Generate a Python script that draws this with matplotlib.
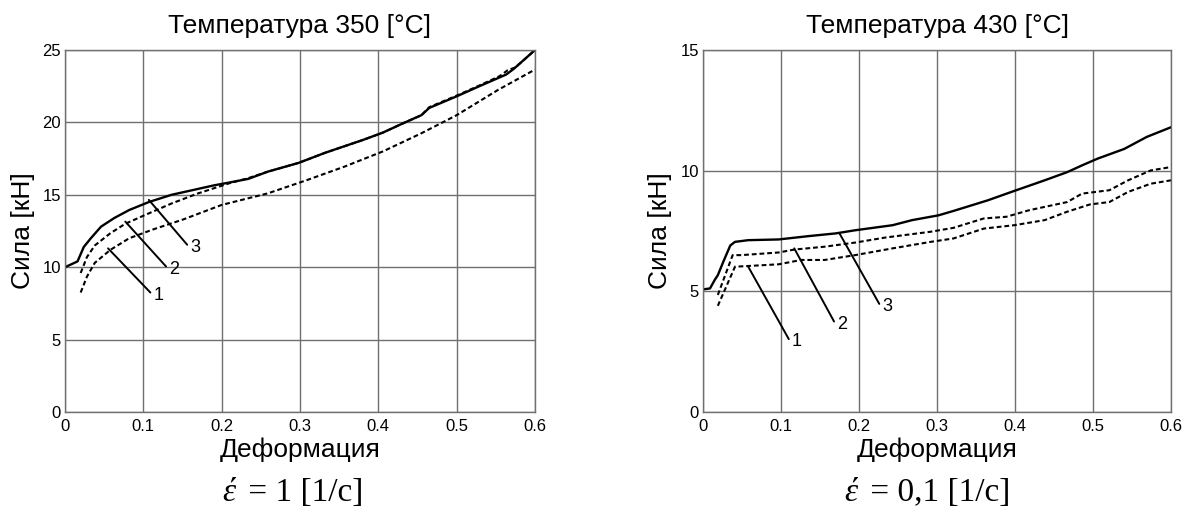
import matplotlib
matplotlib.use('Agg')
import matplotlib.pyplot as plt

plt.rcParams['font.family'] = ['Liberation Sans', 'DejaVu Sans']

# ---------------- data ----------------
strain_ticks = [0, 0.1, 0.2, 0.3, 0.4, 0.5, 0.6]
strain_tick_labels = ['0', '0.1', '0.2', '0.3', '0.4', '0.5', '0.6']
force_ticks_350 = [0, 5, 10, 15, 20, 25]
force_ticks_430 = [0, 5, 10, 15]

titles = ['Температура 350 [°C]', 'Температура 430 [°C]']
xlabel = 'Деформация'
ylabel = 'Сила [кН]'
rate_labels = ['1', '0,1']

# T = 350 °C, strain rate 1 1/s
t350_c3_x = [0, 0.016, 0.024, 0.033, 0.046, 0.063, 0.082, 0.107, 0.136, 0.161, 0.19, 0.21,
             0.234, 0.259, 0.298, 0.332, 0.381, 0.406, 0.43, 0.455, 0.465, 0.5, 0.529, 0.563,
             0.573, 0.6]
t350_c3_y = [10.0, 10.4, 11.4, 12.0, 12.8, 13.4, 13.95, 14.5, 15.0, 15.3, 15.65, 15.85,
             16.1, 16.6, 17.2, 17.9, 18.8, 19.3, 19.9, 20.5, 21.0, 21.8, 22.5, 23.3,
             23.7, 25.0]
t350_c2_x = [0.02, 0.028, 0.038, 0.058, 0.077, 0.102, 0.136, 0.17, 0.21, 0.234, 0.259, 0.298,
             0.332, 0.381, 0.406, 0.43, 0.455, 0.465, 0.5, 0.529, 0.555, 0.565, 0.575, 0.6]
t350_c2_y = [9.6, 10.7, 11.5, 12.35, 13.0, 13.6, 14.4, 15.1, 15.8, 16.15, 16.6, 17.2,
             17.9, 18.8, 19.3, 19.9, 20.5, 21.05, 21.85, 22.55, 23.2, 23.6, 23.8, 25.0]
t350_c1_x = [0.02, 0.028, 0.038, 0.058, 0.082, 0.112, 0.151, 0.2, 0.259, 0.308, 0.357, 0.406,
             0.455, 0.5, 0.553, 0.6]
t350_c1_y = [8.25, 9.35, 10.3, 11.2, 12.0, 12.6, 13.3, 14.3, 15.1, 16.0, 16.95, 18.0,
             19.25, 20.5, 22.25, 23.65]

# T = 430 °C, strain rate 0.1 1/s
t430_c3_x = [0, 0.009, 0.015, 0.019, 0.027, 0.035, 0.041, 0.058, 0.097, 0.136, 0.17, 0.195,
             0.243, 0.268, 0.302, 0.321, 0.365, 0.399, 0.438, 0.467, 0.486, 0.506, 0.54,
             0.569, 0.6]
t430_c3_y = [5.08, 5.12, 5.47, 5.67, 6.3, 6.9, 7.05, 7.12, 7.15, 7.29, 7.4, 7.53,
             7.74, 7.95, 8.15, 8.33, 8.77, 9.16, 9.6, 9.94, 10.22, 10.5, 10.9,
             11.4, 11.8]
t430_c2_x = [0.019, 0.038, 0.049, 0.097, 0.117, 0.156, 0.195, 0.234, 0.292, 0.321, 0.36,
             0.389, 0.418, 0.467, 0.486, 0.521, 0.545, 0.574, 0.6]
t430_c2_y = [4.85, 6.5, 6.5, 6.61, 6.73, 6.85, 7.02, 7.23, 7.47, 7.63, 8.02,
             8.09, 8.36, 8.7, 9.05, 9.19, 9.6, 10.01, 10.15]
t430_c1_x = [0.019, 0.041, 0.058, 0.097, 0.126, 0.156, 0.195, 0.243, 0.292, 0.321, 0.36,
             0.399, 0.438, 0.467, 0.496, 0.521, 0.545, 0.574, 0.6]
t430_c1_y = [4.4, 6.02, 6.05, 6.12, 6.3, 6.3, 6.5, 6.78, 7.05, 7.19, 7.6,
             7.74, 7.95, 8.3, 8.6, 8.7, 9.12, 9.46, 9.6]

# curve number callouts: (label, point on curve, end of leader line)
callouts_350 = [('1', (0.055, 11.3), (0.109, 8.25)),
                ('2', (0.077, 13.15), (0.129, 10.05)),
                ('3', (0.107, 14.65), (0.156, 11.55))]
callouts_430 = [('1', (0.058, 6.02), (0.11, 3.02)),
                ('2', (0.117, 6.78), (0.168, 3.75)),
                ('3', (0.175, 7.4), (0.226, 4.48))]

# ---------------- figure ----------------
W, H = 1184, 509
fig = plt.figure(figsize=(W / 100, H / 100), dpi=100)

grid_col = '#707070'
panels = [
    dict(rect=(65, 50, 470, 362), ymax=25, yticks=force_ticks_350, title=titles[0],
         curves=[(t350_c1_x, t350_c1_y, 'd'), (t350_c2_x, t350_c2_y, 'd'), (t350_c3_x, t350_c3_y, 's')],
         callouts=callouts_350, ylab_x=23, xlab_y=450, rate=rate_labels[0], rate_x=222),
    dict(rect=(703, 50, 468, 362), ymax=15, yticks=force_ticks_430, title=titles[1],
         curves=[(t430_c1_x, t430_c1_y, 'd'), (t430_c2_x, t430_c2_y, 'd'), (t430_c3_x, t430_c3_y, 's')],
         callouts=callouts_430, ylab_x=660, xlab_y=450, rate=rate_labels[1], rate_x=844),
]

for p in panels:
    l, t, w, h = p['rect']
    ax = fig.add_axes([l / W, (H - t - h) / H, w / W, h / H])
    ax.set_xlim(0, 0.6)
    ax.set_ylim(0, p['ymax'])
    ax.set_xticks(strain_ticks)
    ax.set_xticklabels(strain_tick_labels)
    ax.set_yticks(p['yticks'])
    ax.set_yticklabels([str(v) for v in p['yticks']])
    ax.tick_params(axis='both', length=0, labelsize=12, colors='black')
    ax.tick_params(axis='x', pad=5)
    ax.tick_params(axis='y', pad=3)
    ax.grid(True, color=grid_col, linewidth=1.0)
    ax.set_axisbelow(True)
    for s in ax.spines.values():
        s.set_color(grid_col)
        s.set_linewidth(1.0)

    for xs, ys, kind in p['curves']:
        if kind == 's':
            ax.plot(xs, ys, color='black', lw=1.7, solid_joinstyle='round')
        else:
            ax.plot(xs, ys, color='black', lw=1.5, linestyle=(0, (2.3, 1.4)))

    for lab, (x0, y0), (x1, y1) in p['callouts']:
        ax.annotate('', xy=(x0, y0), xytext=(x1, y1),
                    arrowprops=dict(arrowstyle='-', color='black', lw=1.4,
                                    shrinkA=0, shrinkB=0))
        ax.annotate(lab, xy=(x1, y1), xytext=(2, -2), textcoords='offset points',
                    fontsize=13, ha='left', va='center')

    ax.set_title(p['title'], fontsize=19, pad=12)
    ax.set_xlabel(xlabel, fontsize=19)
    ax.set_ylabel(ylabel, fontsize=19)
    ax.xaxis.label.set_va('center')
    ax.yaxis.label.set_va('center')
    ax.xaxis.set_label_coords(0.5, -(p['xlab_y'] - (t + h)) / h)
    ax.yaxis.set_label_coords(-(l - p['ylab_x']) / w, 0.5)

fig.canvas.draw()
renderer = fig.canvas.get_renderer()
rate_y = (H - 493) / H
for p in panels:
    t1 = fig.text(p['rate_x'] / W, rate_y, 'έ', fontsize=24, family='Liberation Serif',
                  style='italic', ha='left', va='center')
    bb = t1.get_window_extent(renderer=renderer)
    fig.text((bb.x1 + 5) / W, rate_y, ' = ' + p['rate'] + ' [1/с]', fontsize=24,
             family='Liberation Serif', ha='left', va='center')

fig.savefig('out.png', dpi=100)
